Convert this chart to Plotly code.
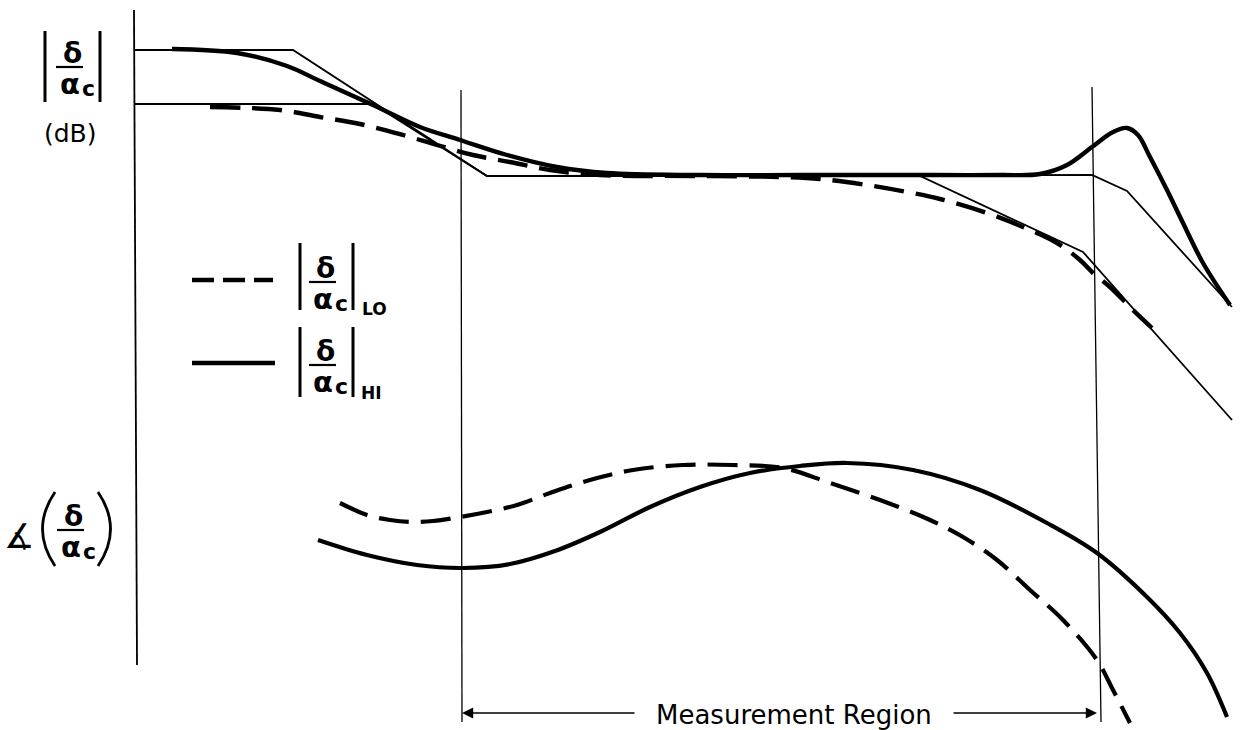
import plotly.graph_objects as go

# ---------------- data (pixel-like units, y downward) ----------------
# |delta/alpha_c| HI magnitude (thick solid)
hi_mag_x = [172, 237, 287, 320, 373, 420, 460, 507, 557, 607, 700, 800, 900, 1000, 1040, 1067, 1092, 1113, 1127, 1138, 1150, 1167, 1183, 1203, 1230]
hi_mag_y = [49, 53, 66, 81, 105, 127, 140, 155, 167, 173, 175, 175, 175, 175, 174, 165, 147, 132, 128, 135, 157, 190, 223, 263, 305]

# |delta/alpha_c| LO magnitude (thick dashed)
lo_mag_x = [210, 280, 320, 360, 403, 437, 473, 510, 550, 600, 700, 780, 820, 867, 907, 940, 987, 1023, 1057, 1080, 1093, 1110, 1133, 1152]
lo_mag_y = [107, 110, 117, 124, 135, 145, 155, 162, 170, 175, 176, 177, 179, 185, 192, 199, 213, 227, 243, 260, 273, 287, 310, 328]

# straight-line asymptotes (thin)
hi_asym_x = [135, 293, 487, 1092, 1127, 1232]
hi_asym_y = [50, 50, 176, 175, 191, 307]
lo_asym_x = [135, 373, 487, 920, 1083, 1232]
lo_asym_y = [104, 104, 176, 176, 252, 420]

# phase curves
lo_ph_x = [340, 367, 390, 410, 433, 460, 487, 517, 550, 590, 633, 683, 733, 783, 830, 880, 930, 963, 997, 1030, 1063, 1097, 1113, 1130]
lo_ph_y = [503, 515, 520, 522, 521, 517, 512, 505, 493, 480, 470, 465, 465, 468, 483, 500, 520, 537, 560, 590, 620, 660, 690, 723]
hi_ph_x = [318, 367, 417, 463, 510, 555, 600, 650, 700, 750, 800, 847, 913, 980, 1047, 1097, 1147, 1180, 1207, 1227]
hi_ph_y = [540, 555, 565, 568, 564, 551, 532, 507, 487, 473, 466, 463, 470, 490, 523, 553, 597, 633, 673, 717]

# vertical reference lines
axis_x = [134, 137]
axis_y = [10, 665]
meas_left_x = [461, 462]
meas_left_y = [90, 722]
meas_right_x = [1092, 1101]
meas_right_y = [87, 722]

# legend sample lines
leg_lo_x = [192, 273]
leg_lo_y = [280, 280]
leg_hi_x = [192, 275]
leg_hi_y = [363, 363]

W, H = 1241, 730
BLACK = "black"
FONT = "DejaVu Sans"

fig = go.Figure()

def add_line(x, y, width, dash="solid", shape="linear"):
    fig.add_trace(go.Scatter(x=x, y=y, mode="lines", showlegend=False, hoverinfo="skip",
                             line=dict(color=BLACK, width=width, dash=dash, shape=shape)))

# reference lines
add_line(axis_x, axis_y, 1.8)
add_line(meas_left_x, meas_left_y, 1.3)
add_line(meas_right_x, meas_right_y, 1.3)
# asymptotes
add_line(hi_asym_x, hi_asym_y, 1.8)
add_line(lo_asym_x, lo_asym_y, 1.8)
# magnitude curves
add_line(hi_mag_x, hi_mag_y, 4.4, shape="spline")
add_line(lo_mag_x, lo_mag_y, 4.4, dash="30px,12px", shape="spline")
# phase curves
add_line(lo_ph_x, lo_ph_y, 4.2, dash="30px,12px", shape="spline")
add_line(hi_ph_x, hi_ph_y, 4.2, shape="spline")
# legend samples
add_line(leg_lo_x, leg_lo_y, 4.4, dash="22px,9px")
add_line(leg_hi_x, leg_hi_y, 4.4)

shapes = []
annotations = []

def txt(x, y, s, size, xanchor="center", yanchor="middle"):
    annotations.append(dict(x=x, y=y, xref="x", yref="y", text=s, showarrow=False,
                            xanchor=xanchor, yanchor=yanchor,
                            font=dict(family=FONT, size=size, color=BLACK)))

def seg(x0, y0, x1, y1, w=2):
    shapes.append(dict(type="line", xref="x", yref="y", x0=x0, y0=y0, x1=x1, y1=y1,
                       line=dict(color=BLACK, width=w)))

def frac(cx, cy, bars=None):
    # delta over alpha_c, centred on the fraction bar at (cx, cy)
    txt(cx + 1, cy - 14, "<b>δ</b>", 28)
    seg(cx - 15, cy, cx + 12, cy, 2.2)
    txt(cx - 1, cy + 17, "<b>α</b>", 29)
    txt(cx + 17, cy + 21, "<b>c</b>", 22)
    if bars:
        bl, br, bt, bb = bars
        seg(bl, bt, bl, bb, 3)
        seg(br, bt, br, bb, 3)

# top-left label |delta/alpha_c| (dB)
frac(71, 67, (45, 100, 31, 102))
txt(70, 133, "(dB)", 25)

# legend labels
frac(324, 282, (300, 353, 243, 310))
txt(374, 309, "<b>LO</b>", 17)
frac(324, 365, (300, 353, 327, 397))
txt(371, 393, "<b>HI</b>", 17)

# phase label
txt(19, 536, "∡", 34)
frac(72, 530)
shapes.append(dict(type="path", xref="x", yref="y", path="M 55 492 Q 30 529 55 566",
                   line=dict(color=BLACK, width=2.8)))
shapes.append(dict(type="path", xref="x", yref="y", path="M 98 492 Q 123 529 98 566",
                   line=dict(color=BLACK, width=2.8)))

# measurement region arrows + text
for (xh, xt) in [(462, 636), (1097, 952)]:
    annotations.append(dict(x=xh, y=713, ax=xt, ay=713, xref="x", yref="y", axref="x", ayref="y",
                            text="", showarrow=True, arrowhead=2, arrowsize=1.4, arrowwidth=1.6,
                            arrowcolor=BLACK))
txt(794, 715, "Measurement Region", 26)

fig.update_layout(
    width=W, height=H,
    margin=dict(l=0, r=0, t=0, b=0),
    paper_bgcolor="white", plot_bgcolor="white",
    xaxis=dict(range=[0, W], visible=False, fixedrange=True),
    yaxis=dict(range=[H, 0], visible=False, fixedrange=True),
    shapes=shapes, annotations=annotations,
    showlegend=False,
)

fig.write_html("out.html")
